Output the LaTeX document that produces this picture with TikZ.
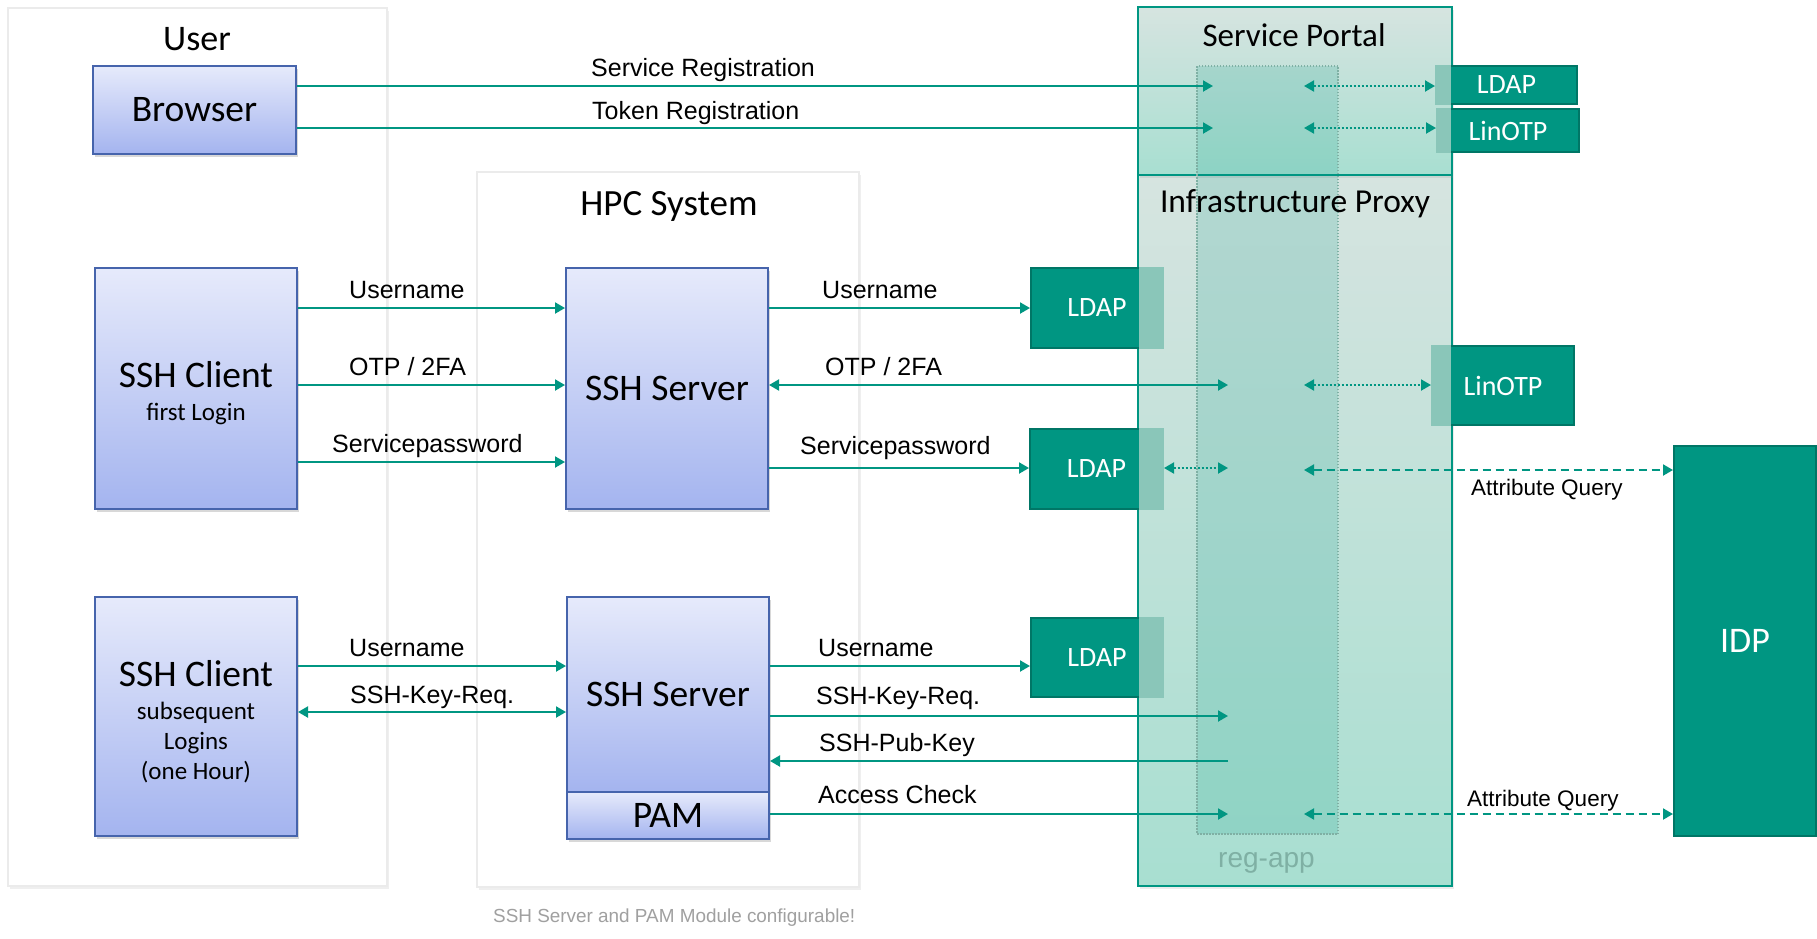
\documentclass[tikz,border=0pt]{standalone}
\usepackage{fontspec}
\setmainfont{Carlito}
\newfontfamily\arialfont{Liberation Sans}
\usetikzlibrary{arrows.meta,shadows}

\definecolor{kit}{RGB}{0,150,130}
\definecolor{kitdark}{RGB}{0,118,102}
\definecolor{kitlight}{RGB}{138,198,185}
\definecolor{paneltop}{RGB}{214,228,224}
\definecolor{panelbot}{RGB}{168,223,209}
\definecolor{boxtop}{RGB}{230,234,251}
\definecolor{boxbot}{RGB}{164,180,239}
\definecolor{boxline}{RGB}{70,100,172}
\definecolor{regapp}{RGB}{127,176,164}
\definecolor{notegray}{RGB}{160,160,160}

\tikzset{
  panel/.style={draw=black!8, line width=1.5pt, fill=white,
    drop shadow={shadow xshift=2pt, shadow yshift=-3pt, opacity=.12}},
  proxy/.style={draw=kit, line width=2pt, top color=paneltop, bottom color=panelbot,
    drop shadow={shadow xshift=2pt, shadow yshift=-3pt, opacity=.15}},
  regcol/.style={draw=regapp, line width=1.2pt, dash pattern=on 1.5pt off 1.5pt,
    fill=kit, fill opacity=.16},
  bluebox/.style={draw=boxline, line width=2pt, top color=boxtop, bottom color=boxbot,
    drop shadow={shadow xshift=2pt, shadow yshift=-3pt, opacity=.3},
    minimum width=202pt, inner sep=0pt, align=center, font=\fontsize{37.5}{41}\selectfont},
  store/.style={draw=kitdark, line width=2pt, fill=kit, text=white, inner sep=0pt,
    font=\fontsize{28}{32}\selectfont},
  title/.style={inner sep=0pt, anchor=base, font=\fontsize{37}{41}\selectfont},
  lbl/.style={inner sep=0pt, anchor=base west, font=\arialfont\fontsize{25}{30}\selectfont},
  qlbl/.style={lbl, font=\arialfont\fontsize{22.5}{27}\selectfont},
  note/.style={inner sep=0pt, anchor=base west, text=notegray,
    font=\arialfont\fontsize{18.9}{23}\selectfont},
  tag/.style={inner sep=0pt, anchor=base west, text=regapp,
    font=\arialfont\fontsize{28}{32}\selectfont},
  flow/.style={draw=kit, line width=2pt, -{Triangle[length=10pt,width=11pt]}},
  flowboth/.style={flow, {Triangle[length=10pt,width=11pt]}-{Triangle[length=10pt,width=11pt]}},
  lookup/.style={flowboth, dash pattern=on 2pt off 2pt},
  query/.style={flowboth, dash pattern=on 8pt off 5pt},
}

\begin{document}
\begin{tikzpicture}[x=1pt, y=-1pt]
  \fill[white] (0,0) rectangle (1817,938);
  \useasboundingbox (0,0) rectangle (1817,938);

  % domains
  \path[panel] (8,8) rectangle (387,886);
  \path[panel] (477,172) rectangle (859,887);
  \path[proxy] (1138,175) rectangle (1452,886);
  \path[proxy] (1138,7) rectangle (1452,175);
  \path[regcol] (1197,66) rectangle (1338,834);

  \node[title, font=\fontsize{36}{40}\selectfont] (tUser) at (197,50) {User};
  \node[title] (tHpc) at (669,215) {HPC System};
  \node[title, font=\fontsize{33}{38}\selectfont] (tPortal) at (1294,46) {Service Portal};
  \node[title, font=\fontsize{33.5}{38}\selectfont] (tProxy) at (1295,212) {Infrastructure Proxy};
  \node[tag] (tRegapp) at (1218,867) {reg-app};

  % backends
  \node[store, minimum width=132pt, minimum height=80pt] (ldapA) at (1097,308) {LDAP};
  \node[store, minimum width=133pt, minimum height=80pt] (ldapB) at (1096.5,469) {LDAP};
  \node[store, minimum width=132pt, minimum height=79pt] (ldapC) at (1097,657.5) {LDAP};
  \node[store, minimum width=142pt, minimum height=79pt] (otpMid) at (1503,385.5) {LinOTP};
  \node[store, minimum width=141pt, minimum height=38pt] (ldapTop) at (1506.5,85) {LDAP};
  \node[store, minimum width=142pt, minimum height=43pt] (otpTop) at (1508,130.5) {LinOTP};
  \node[store, minimum width=142pt, minimum height=390pt, font=\fontsize{36}{40}\selectfont] (idp) at (1745,641) {IDP};

  % parts covered by the proxy
  \fill[kitlight] ([xshift=-25pt]ldapA.north east) rectangle (ldapA.south east);
  \fill[kitlight] ([xshift=-25pt]ldapB.north east) rectangle (ldapB.south east);
  \fill[kitlight] ([xshift=-25pt]ldapC.north east) rectangle (ldapC.south east);
  \fill[kitlight] (otpMid.north west) rectangle ([xshift=20pt]otpMid.south west);
  \fill[kitlight] (ldapTop.north west) rectangle ([xshift=16pt]ldapTop.south west);
  \fill[kitlight] (otpTop.north west) rectangle ([xshift=15pt]otpTop.south west);

  % user and hpc side
  \node[bluebox, minimum width=203pt, minimum height=88pt] (browser) at (194.5,110) {Browser};
  \node[bluebox, minimum height=241pt] (clFirst) at (196,388.5)
    {\rule{0pt}{36pt}SSH Client\\[-8pt]\fontsize{25}{30}\selectfont first Login};
  \node[bluebox, minimum height=239pt] (clNext) at (196,716.5)
    {\rule{0pt}{36pt}SSH Client\\[-8pt]\fontsize{25}{30}\selectfont subsequent\\[-11pt]\fontsize{25}{30}\selectfont Logins\\[-11pt]\fontsize{25}{30}\selectfont (one Hour)};
  \node[bluebox, minimum height=241pt] (svFirst) at (667,388.5) {SSH Server};
  \node[bluebox, minimum height=195pt] (svNext) at (668,694.5) {SSH Server};
  \node[bluebox, minimum height=47pt] (pam) at (668,815.5) {PAM};

  % rows and reg-app ports
  \coordinate (regIn) at (1213,0);
  \coordinate (regL) at (1228,0);
  \coordinate (regR) at (1304,0);
  \coordinate (rSR) at (0,86);
  \coordinate (rTR) at (0,128);
  \coordinate (rU1) at (0,308);
  \coordinate (rO1) at (0,385);
  \coordinate (rP1) at (0,462);
  \coordinate (rP1b) at (0,468);
  \coordinate (rQ1) at (0,470);
  \coordinate (rU2) at (0,666);
  \coordinate (rK2) at (0,712);
  \coordinate (rK2b) at (0,716);
  \coordinate (rB2) at (0,761);
  \coordinate (rA2) at (0,814);

  % registration
  \draw[flow] (browser.east |- rSR) -- (regIn |- rSR);
  \draw[flow] (browser.east |- rTR) -- (regIn |- rTR);
  \draw[lookup] (regR |- rSR) -- (ldapTop.west |- rSR);
  \draw[lookup] (regR |- rTR) -- (otpTop.west |- rTR);

  % first login
  \draw[flow] (clFirst.east |- rU1) -- (svFirst.west |- rU1);
  \draw[flow] (clFirst.east |- rO1) -- (svFirst.west |- rO1);
  \draw[flow] (clFirst.east |- rP1) -- (svFirst.west |- rP1);
  \draw[flow] (svFirst.east |- rU1) -- (ldapA.west |- rU1);
  \draw[flowboth] (svFirst.east |- rO1) -- (regL |- rO1);
  \draw[lookup] (regR |- rO1) -- (otpMid.west |- rO1);
  \draw[flow] (svFirst.east |- rP1b) -- (ldapB.west |- rP1b);
  \draw[lookup] (ldapB.east |- rP1b) -- (regL |- rP1b);
  \draw[query] (regR |- rQ1) -- (idp.west |- rQ1);

  % subsequent logins
  \draw[flow] (clNext.east |- rU2) -- (svNext.west |- rU2);
  \draw[flowboth] (clNext.east |- rK2) -- (svNext.west |- rK2);
  \draw[flow] (svNext.east |- rU2) -- (ldapC.west |- rU2);
  \draw[flow] (svNext.east |- rK2b) -- (regL |- rK2b);
  \draw[flow] (regL |- rB2) -- (svNext.east |- rB2);
  \draw[flow] (pam.east |- rA2) -- (regL |- rA2);
  \draw[query] (regR |- rA2) -- (idp.west |- rA2);

  % message labels
  \node[lbl] (lSR) at (591,76) {Service Registration};
  \node[lbl] (lTR) at (592,119) {Token Registration};
  \node[lbl] (lU1a) at (349,298) {Username};
  \node[lbl] (lO1a) at (349,375) {OTP / 2FA};
  \node[lbl] (lP1a) at (332,452) {Servicepassword};
  \node[lbl] (lU1b) at (822,298) {Username};
  \node[lbl] (lO1b) at (825,375) {OTP / 2FA};
  \node[lbl] (lP1b) at (800,454) {Servicepassword};
  \node[lbl] (lU2a) at (349,656) {Username};
  \node[lbl] (lK2a) at (350,703) {SSH-Key-Req.};
  \node[lbl] (lU2b) at (818,656) {Username};
  \node[lbl] (lK2b) at (816,704) {SSH-Key-Req.};
  \node[lbl] (lB2b) at (819,751) {SSH-Pub-Key};
  \node[lbl] (lA2b) at (818,803) {Access Check};
  \node[qlbl] (lQ1) at (1471,495) {Attribute Query};
  \node[qlbl] (lQ2) at (1467,806) {Attribute Query};
  \node[note] (remark) at (493,922) {SSH Server and PAM Module configurable!};
\end{tikzpicture}
\end{document}
